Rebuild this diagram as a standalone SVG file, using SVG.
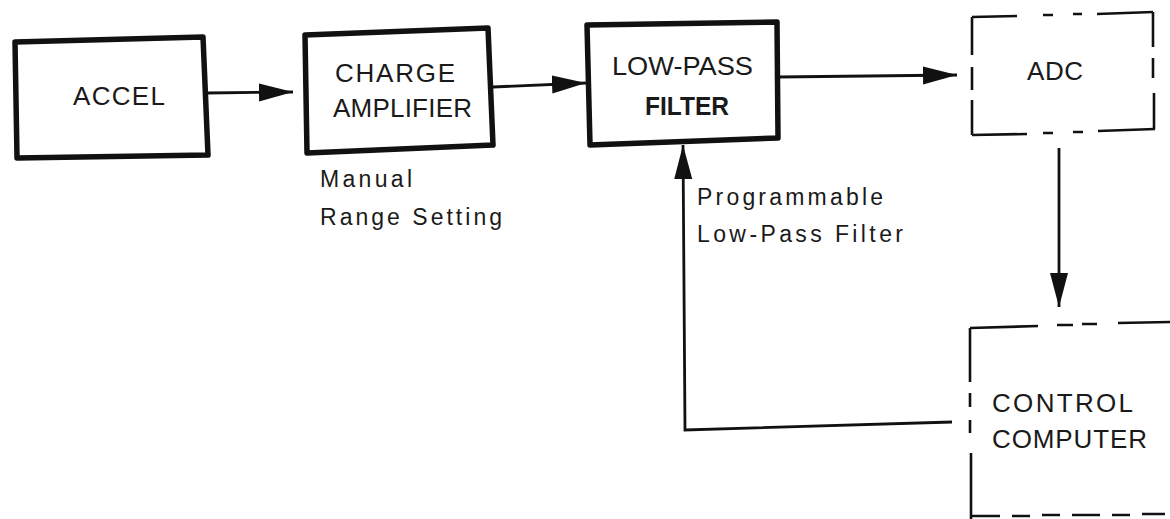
<svg xmlns="http://www.w3.org/2000/svg" width="1170" height="519" viewBox="0 0 1170 519">
  <style>
    .box { fill: none; stroke: #111; stroke-width: 5.5; stroke-linejoin: round; }
    .dash { fill: none; stroke: #111; stroke-width: 2.6; stroke-linecap: butt; }
    .wire { fill: none; stroke: #111; stroke-width: 2.8; }
    .lbl { font-family: "Liberation Sans", Arial, sans-serif; font-size: 26px; fill: #1a1a1a; }
    .note { font-family: "Liberation Sans", Arial, sans-serif; font-size: 23px; fill: #1a1a1a; }
  </style>
  <defs>
    <marker id="head" markerUnits="userSpaceOnUse" markerWidth="36" markerHeight="20" refX="34" refY="9" orient="auto">
      <path d="M0,0 L34,9 L0,18 Z" fill="#111"/>
    </marker>
  </defs>
  <rect width="1170" height="519" fill="#fff"/>

  <!-- connectors -->
  <g id="connectors">
    <path class="wire" d="M208,93 L293,92" marker-end="url(#head)"/>
    <path class="wire" d="M493,87 L586,83" marker-end="url(#head)"/>
    <path class="wire" d="M778,77 L957,75" marker-end="url(#head)"/>
    <path class="wire" d="M1059,148 L1059,307" marker-end="url(#head)"/>
    <path class="wire" d="M952,422 L685,430 L683,145" marker-end="url(#head)"/>
  </g>

  <!-- accelerometer -->
  <g id="accel">
    <path class="box" d="M15,42 L203,37 L208,155 L17,158 Z"/>
    <text class="lbl" x="73" y="105" textLength="92" lengthAdjust="spacing">ACCEL</text>
  </g>

  <!-- charge amplifier -->
  <g id="charge-amplifier">
    <path class="box" d="M305,35 L488,28 L493,145 L307,153 Z"/>
    <text class="lbl" x="335" y="82" textLength="120" lengthAdjust="spacing">CHARGE</text>
    <text class="lbl" x="333" y="117" textLength="139" lengthAdjust="spacing">AMPLIFIER</text>
  </g>

  <!-- low-pass filter -->
  <g id="low-pass-filter">
    <path class="box" d="M587,25 L777,22 L778,138 L590,145 Z"/>
    <text class="lbl" x="612" y="75" textLength="141" lengthAdjust="spacingAndGlyphs">LOW-PASS</text>
    <text class="lbl" x="645" y="115" font-weight="bold" textLength="84" lengthAdjust="spacingAndGlyphs">FILTER</text>
  </g>

  <!-- analog to digital converter (dashed outline) -->
  <g id="adc">
    <path class="dash" d="M972,17 L1017,16 M1043,15 L1053,15 M1073,14 L1082,14 M1097,14 L1153,12"/>
    <path class="dash" d="M1153,12 L1153,47 M1153,58 L1153,78 M1154,93 L1154,129"/>
    <path class="dash" d="M972,135 L1027,134 M1043,133 L1053,133 M1073,132 L1083,132 M1098,131 L1155,129"/>
    <path class="dash" d="M972,17 L972,55 M972,67 L972,90 M972,100 L972,135"/>
    <text class="lbl" x="1027" y="80" textLength="56" lengthAdjust="spacing">ADC</text>
  </g>

  <!-- control computer (dashed outline) -->
  <g id="control-computer">
    <path class="dash" d="M970,328 L1038,326 M1057,325 L1073,325 M1082,324 L1097,324 M1118,323 L1170,322"/>
    <path class="dash" d="M970,328 L970,382 M970,393 L970,407 M970,420 L970,433 M971,453 L971,519"/>
    <path class="dash" d="M971,516 L1000,516 M1012,516 L1030,516 M1042,515 L1060,515 M1072,515 L1100,515 M1112,515 L1130,515 M1142,514 L1165,514"/>
    <text class="lbl" x="992" y="412" textLength="141" lengthAdjust="spacing">CONTROL</text>
    <text class="lbl" x="992" y="448" textLength="155" lengthAdjust="spacing">COMPUTER</text>
  </g>

  <!-- annotations -->
  <g id="range-note">
    <text class="note" x="320" y="187" textLength="92" lengthAdjust="spacing">Manual</text>
    <text class="note" x="320" y="225" textLength="182" lengthAdjust="spacing">Range Setting</text>
  </g>
  <g id="filter-note">
    <text class="note" x="697" y="205" textLength="186" lengthAdjust="spacing">Programmable</text>
    <text class="note" x="697" y="242" textLength="206" lengthAdjust="spacing">Low-Pass Filter</text>
  </g>
</svg>
